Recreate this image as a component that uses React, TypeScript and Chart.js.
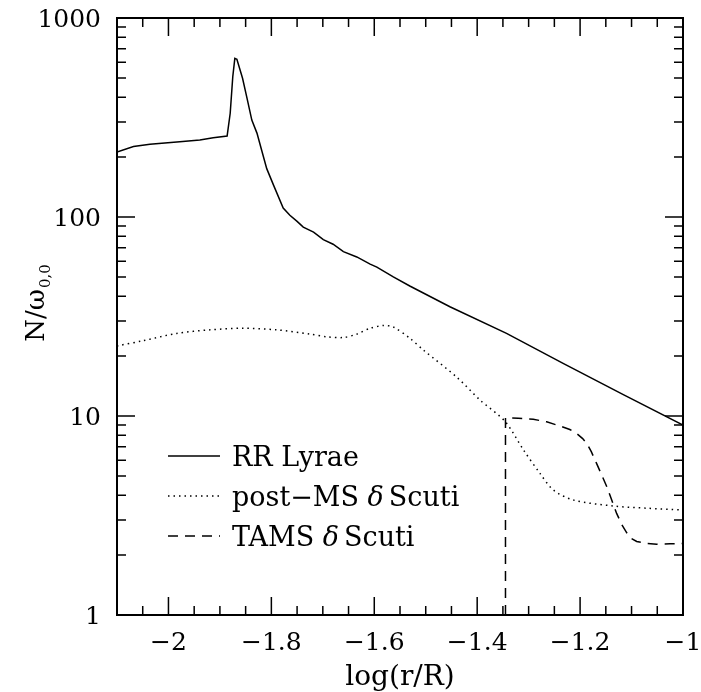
import { useEffect, useRef } from "react";
import { Chart, registerables } from "chart.js";

Chart.register(...registerables);

// ---- data ----
const rrLyraeX = [-2.1, -2.068, -2.036, -1.978, -1.939, -1.913, -1.886, -1.88, -1.875, -1.871, -1.867, -1.856, -1.848, -1.838, -1.828, -1.819, -1.809, -1.796, -1.777, -1.764, -1.75, -1.738, -1.718, -1.699, -1.68, -1.66, -1.634, -1.608, -1.595, -1.563, -1.531, -1.453, -1.343, -1.233, -1.116, -1.0];
const rrLyraeY = [212, 226, 232, 239, 244, 250, 255, 332, 507, 627, 620, 498, 403, 307, 264, 217, 175, 145, 111, 102, 95, 89, 84, 77, 73, 67, 63, 58, 56, 50, 45, 35.4, 26.0, 18.4, 12.8, 9.0];

const postMsX = [-2.1, -2.049, -1.984, -1.919, -1.855, -1.79, -1.725, -1.692, -1.66, -1.634, -1.608, -1.582, -1.563, -1.531, -1.505, -1.44, -1.394, -1.346, -1.31, -1.278, -1.252, -1.213, -1.135, -1.07, -1.0];
const postMsY = [22.5, 23.9, 26.0, 27.1, 27.6, 27.1, 25.8, 25.0, 24.8, 25.8, 27.6, 28.5, 28.0, 24.6, 21.5, 15.7, 12.0, 9.4, 6.75, 5.15, 4.25, 3.78, 3.53, 3.44, 3.37];

const tamsX = [-1.345, -1.345, -1.32, -1.291, -1.265, -1.239, -1.22, -1.207, -1.195, -1.187, -1.178, -1.168, -1.158, -1.148, -1.138, -1.129, -1.119, -1.109, -1.1, -1.09, -1.07, -1.051, -1.025, -1.0];
const tamsY = [1, 9.8, 9.75, 9.63, 9.35, 8.9, 8.55, 8.19, 7.7, 7.29, 6.6, 5.78, 5.05, 4.41, 3.75, 3.24, 2.85, 2.58, 2.42, 2.34, 2.29, 2.27, 2.28, 2.29];

const seriesLabels = ["RR Lyrae", "post\u2212MS \u03b4 Scuti", "TAMS \u03b4 Scuti"];

const xMajorTicks = [-2, -1.8, -1.6, -1.4, -1.2, -1];
const xTickLabels = ["\u22122", "\u22121.8", "\u22121.6", "\u22121.4", "\u22121.2", "\u22121"];
const xMinorTicks = [-2.05, -1.95, -1.9, -1.85, -1.75, -1.7, -1.65, -1.55, -1.5, -1.45, -1.35, -1.3, -1.25, -1.15, -1.1, -1.05];
const yMajorTicks = [1, 10, 100, 1000];
const yTickLabels = ["1", "10", "100", "1000"];
const yMinorTicks = [2, 3, 4, 5, 6, 7, 8, 9, 20, 30, 40, 50, 60, 70, 80, 90, 200, 300, 400, 500, 600, 700, 800, 900];

const xTitle = "log(r/R)";
const yTitleMain = "N/\u03c9";
const yTitleSub = "0,0";

const FONT = "'DejaVu Serif', 'Liberation Serif', serif";

const toPoints = (xs: number[], ys: number[]) => xs.map((x, i) => ({ x, y: ys[i] }));

const framePlugin = {
  id: "frame",
  afterDraw(chart: any) {
    const ctx: CanvasRenderingContext2D = chart.ctx;
    const { left, right, top, bottom } = chart.chartArea;
    const xs = chart.scales.x;
    const ys = chart.scales.y;
    ctx.save();
    ctx.strokeStyle = "#000";
    ctx.fillStyle = "#000";

    // frame
    ctx.lineWidth = 2;
    ctx.strokeRect(left, top, right - left, bottom - top);

    // ticks (inward, on all four sides)
    ctx.lineWidth = 1.5;
    const major = 18;
    const minor = 9;
    ctx.beginPath();
    const xt = (v: number, len: number) => {
      const px = xs.getPixelForValue(v);
      ctx.moveTo(px, bottom);
      ctx.lineTo(px, bottom - len);
      ctx.moveTo(px, top);
      ctx.lineTo(px, top + len);
    };
    const yt = (v: number, len: number) => {
      const py = ys.getPixelForValue(v);
      ctx.moveTo(left, py);
      ctx.lineTo(left + len, py);
      ctx.moveTo(right, py);
      ctx.lineTo(right - len, py);
    };
    xMajorTicks.forEach((v) => xt(v, major));
    xMinorTicks.forEach((v) => xt(v, minor));
    yMajorTicks.forEach((v) => yt(v, major));
    yMinorTicks.forEach((v) => yt(v, minor));
    ctx.stroke();

    // tick labels
    ctx.font = `25px ${FONT}`;
    ctx.textBaseline = "alphabetic";
    ctx.textAlign = "center";
    xMajorTicks.forEach((v, i) => {
      ctx.fillText(xTickLabels[i], xs.getPixelForValue(v), bottom + 35);
    });
    ctx.textAlign = "right";
    yMajorTicks.forEach((v, i) => {
      ctx.fillText(yTickLabels[i], left - 16, ys.getPixelForValue(v) + 9);
    });

    // x title
    ctx.textAlign = "center";
    ctx.font = `28px ${FONT}`;
    ctx.fillText(xTitle, (left + right) / 2, bottom + 70);

    // y title with subscript
    ctx.save();
    ctx.translate(44, 303);
    ctx.rotate(-Math.PI / 2);
    ctx.textAlign = "left";
    ctx.font = `26px ${FONT}`;
    const wMain = ctx.measureText(yTitleMain).width;
    ctx.font = `15px ${FONT}`;
    const wSub = ctx.measureText(yTitleSub).width;
    const start = -(wMain + wSub + 1) / 2;
    ctx.font = `26px ${FONT}`;
    ctx.fillText(yTitleMain, start, 0);
    ctx.font = `15px ${FONT}`;
    ctx.fillText(yTitleSub, start + wMain + 1, 6);
    ctx.restore();

    // legend
    chart.data.datasets.forEach((ds: any, i: number) => {
      const y = 456 + 40 * i;
      ctx.save();
      ctx.lineWidth = ds.borderWidth;
      ctx.setLineDash(ds.borderDash || []);
      ctx.beginPath();
      ctx.moveTo(168, y);
      ctx.lineTo(220, y);
      ctx.stroke();
      ctx.restore();
      const label: string = ds.label;
      const parts = label.split("\u03b4");
      let x = 232;
      ctx.textAlign = "left";
      ctx.font = `27px ${FONT}`;
      ctx.fillText(parts[0], x, y + 10);
      x += ctx.measureText(parts[0]).width;
      if (parts.length > 1) {
        ctx.font = `italic 27px ${FONT}`;
        ctx.fillText("\u03b4", x, y + 10);
        x += ctx.measureText("\u03b4").width;
        ctx.font = `27px ${FONT}`;
        const rest = parts[1].replace(/^ /, "");
        ctx.fillText(rest, x + 5, y + 10);
      }
    });
    ctx.restore();
  },
};

export default function App() {
  const ref = useRef<HTMLCanvasElement | null>(null);
  useEffect(() => {
    document.body.style.margin = "0";
    if (!ref.current) return;
    const chart = new Chart(ref.current, {
      type: "scatter",
      data: {
        datasets: [
          {
            label: seriesLabels[0],
            data: toPoints(rrLyraeX, rrLyraeY),
            showLine: true,
            borderColor: "#000",
            borderWidth: 1.5,
            pointRadius: 0,
            tension: 0,
          },
          {
            label: seriesLabels[1],
            data: toPoints(postMsX, postMsY),
            showLine: true,
            borderColor: "#000",
            borderWidth: 1.5,
            borderDash: [1.5, 4],
            pointRadius: 0,
            tension: 0.3,
          },
          {
            label: seriesLabels[2],
            data: toPoints(tamsX, tamsY),
            showLine: true,
            borderColor: "#000",
            borderWidth: 1.5,
            borderDash: [10, 7],
            pointRadius: 0,
            tension: 0,
          },
        ],
      },
      options: {
        animation: false,
        responsive: false,
        events: [],
        layout: { padding: { left: 117, right: 18, top: 18, bottom: 77 } },
        plugins: { legend: { display: false }, tooltip: { enabled: false } },
        scales: {
          x: { type: "linear", min: -2.1, max: -1, display: false },
          y: { type: "logarithmic", min: 1, max: 1000, display: false },
        },
      } as any,
      plugins: [framePlugin],
    });
    return () => chart.destroy();
  }, []);
  return (
    <div style={{ width: 701, height: 692, background: "#fff" }}>
      <canvas ref={ref} width={701} height={692} style={{ display: "block", width: 701, height: 692 }} />
    </div>
  );
}
